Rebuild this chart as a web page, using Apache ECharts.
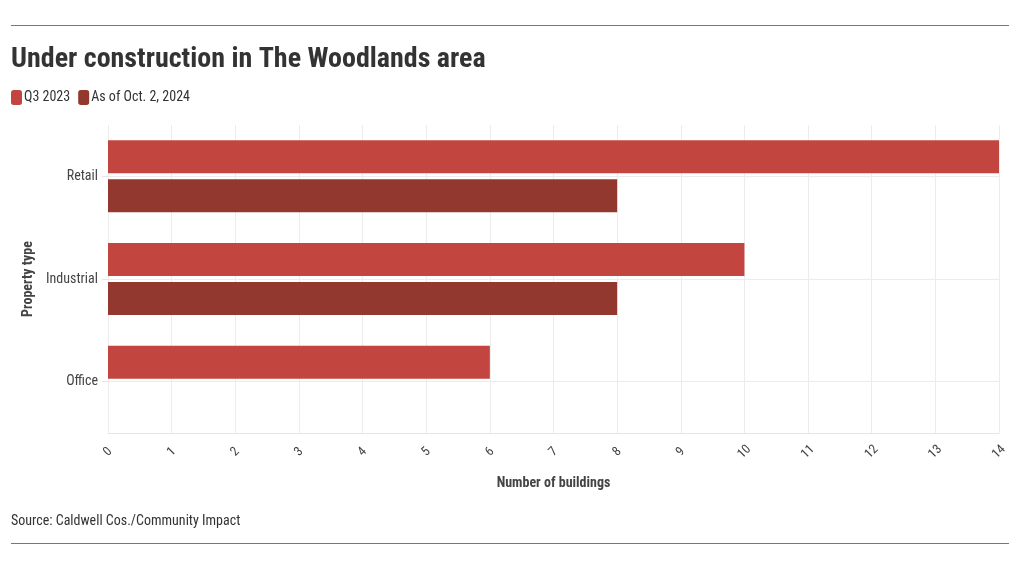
<!DOCTYPE html>
<html><head><meta charset="utf-8">
<script src="https://cdn.jsdelivr.net/npm/echarts@6/dist/echarts.min.js"></script>
<style>html,body{margin:0;padding:0;background:#fff}#c{width:1020px;height:568px}</style>
</head><body><div id="c"></div>
<script>
const categories = ['Retail', 'Industrial', 'Office'];
const seriesNames = ['Q3 2023', 'As of Oct. 2, 2024'];
const q3_2023 = [14, 10, 6];
const asOfOct2024 = [8, 8, null];
const xTicks = [0, 14, 1];

const FONT = '"Roboto Condensed", "Liberation Sans Narrow", "Roboto", sans-serif';
const chart = echarts.init(document.getElementById('c'));
chart.setOption({
  animation: false,
  textStyle: { fontFamily: FONT },
  title: {
    text: 'Under construction in The Woodlands area',
    left: 6, top: 41,
    textStyle: { fontFamily: FONT, fontSize: 28, fontWeight: 'bold', color: '#333' }
  },
  legend: {
    left: 6, top: 85, itemWidth: 11, itemHeight: 15, itemGap: 8,
    icon: 'roundRect',
    textStyle: { fontFamily: FONT, fontSize: 14, color: '#333', padding: [0, 0, 0, -3] },
    data: seriesNames
  },
  grid: { left: 108, right: 21, top: 125, bottom: 135, containLabel: false },
  xAxis: {
    type: 'value', min: xTicks[0], max: xTicks[1], interval: xTicks[2],
    name: 'Number of buildings', nameLocation: 'middle', nameGap: 43,
    nameTextStyle: { fontFamily: FONT, fontSize: 14, fontWeight: 'bold', color: '#444' },
    axisLine: { show: true, lineStyle: { color: '#e6e6e6' } },
    axisTick: { show: false },
    axisLabel: { rotate: 45, align: 'center', verticalAlign: 'middle', color: '#444', fontSize: 13, margin: 19, fontFamily: FONT },
    splitLine: { show: true, lineStyle: { color: '#ececec' } }
  },
  yAxis: {
    type: 'category', data: categories, inverse: true,
    name: 'Property type', nameLocation: 'middle', nameGap: 73, nameRotate: 90,
    nameTextStyle: { fontFamily: FONT, fontSize: 14, fontWeight: 'bold', color: '#444' },
    axisLine: { show: false },
    axisTick: { show: true, alignWithLabel: true, length: 6, lineStyle: { color: '#e6e6e6' } },
    axisLabel: { color: '#444', fontSize: 14, margin: 10, fontFamily: FONT },
    splitLine: { show: true, alignWithLabel: true, lineStyle: { color: '#ececec' } }
  },
  color: ['#c62f2a', '#8e2a20'],
  series: [
    { name: seriesNames[0], type: 'bar', data: q3_2023, barWidth: 33, barGap: '18%',
      itemStyle: { color: '#c2463f' } },
    { name: seriesNames[1], type: 'bar', data: asOfOct2024, barWidth: 33,
      itemStyle: { color: '#93382e' } }
  ],
  graphic: [
    { type: 'line', shape: { x1: 11, y1: 25.5, x2: 1009, y2: 25.5 }, style: { stroke: '#777', lineWidth: 1 } },
    { type: 'line', shape: { x1: 11, y1: 543.5, x2: 1009, y2: 543.5 }, style: { stroke: '#777', lineWidth: 1 } },
    { type: 'text', left: 11, top: 514, style: { text: 'Source: Caldwell Cos./Community Impact', font: '14px ' + FONT, fill: '#333' } }
  ]
});
</script></body></html>
